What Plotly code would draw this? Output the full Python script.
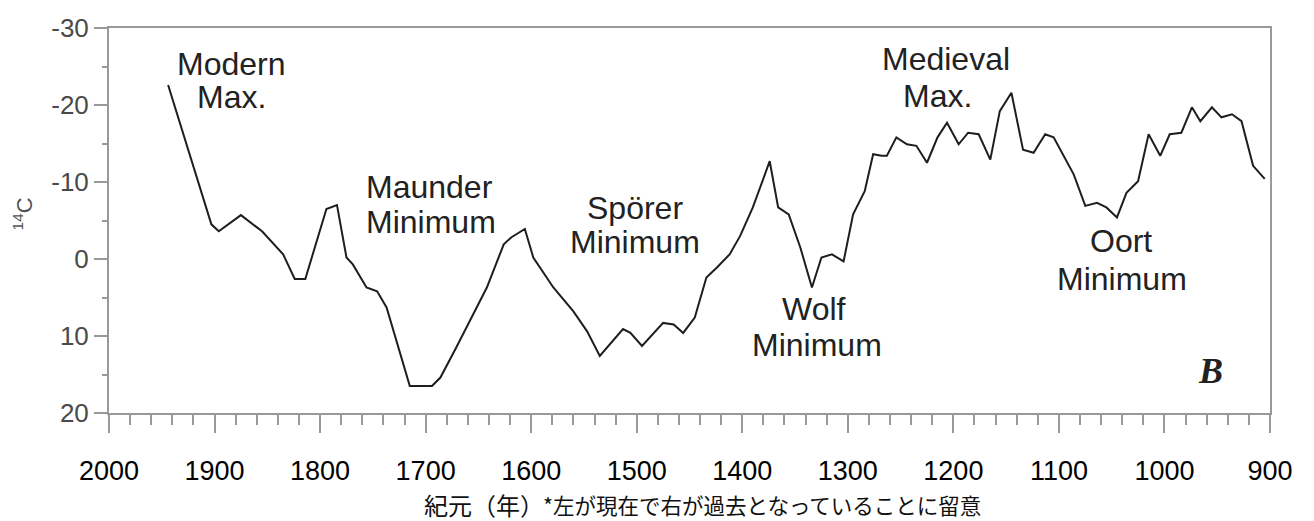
import plotly.graph_objects as go

# Radiocarbon (Delta 14C, per mil) record, year AD vs. value
years = [1944, 1903, 1896, 1875, 1855, 1835, 1824, 1814, 1794, 1784,
         1775, 1769, 1756, 1746, 1737, 1726, 1715, 1694, 1686, 1671,
         1655, 1642, 1626, 1619, 1606, 1598, 1579, 1560, 1547, 1535,
         1513, 1506, 1495, 1475, 1465, 1456, 1445, 1439, 1434, 1424,
         1412, 1402, 1390, 1374, 1366, 1356, 1345, 1334, 1325, 1315,
         1304, 1295, 1284, 1276, 1268, 1263, 1254, 1244, 1235, 1225,
         1215, 1206, 1195, 1186, 1176, 1165, 1156, 1145, 1134, 1124,
         1113, 1105, 1086, 1075, 1064, 1055, 1045, 1036, 1025, 1015,
         1004, 995, 984, 974, 966, 955, 946, 936, 927, 916, 905]
c14 = [-22.6, -4.5, -3.6, -5.7, -3.6, -0.6, 2.6, 2.6, -6.5, -7.0,
       -0.2, 0.7, 3.7, 4.2, 6.3, 11.5, 16.5, 16.5, 15.4, 11.5,
       7.2, 3.7, -1.9, -2.8, -3.9, -0.2, 3.7, 6.8, 9.4, 12.6,
       9.1, 9.6, 11.3, 8.3, 8.5, 9.6, 7.6, 4.6, 2.4, 1.1,
       -0.6, -3.0, -6.7, -12.7, -6.7, -5.8, -1.5, 3.7, -0.2, -0.6,
       0.3, -5.8, -8.8, -13.6, -13.4, -13.4, -15.8, -14.9, -14.7, -12.5,
       -15.8, -17.7, -14.9, -16.4, -16.2, -12.9, -19.2, -21.6, -14.2, -13.8,
       -16.2, -15.8, -11.0, -6.9, -7.3, -6.7, -5.4, -8.6, -10.1, -16.2,
       -13.4, -16.2, -16.4, -19.7, -17.9, -19.7, -18.4, -18.8, -17.9, -12.1, -10.4]

x_ticks = [2000, 1900, 1800, 1700, 1600, 1500, 1400, 1300, 1200, 1100, 1000, 900]
y_ticks = [-30, -20, -10, 0, 10, 20]

# Period labels: (text, year, value)
period_labels = [
    ("Modern", 1884, -25.3), ("Max.", 1884, -21.0),
    ("Maunder", 1696, -9.3), ("Minimum", 1695, -4.8),
    ("Spörer", 1502, -6.6), ("Minimum", 1502, -2.2),
    ("Wolf", 1332, 6.5), ("Minimum", 1329, 11.2),
    ("Medieval", 1207, -26.0), ("Max.", 1215, -21.2),
    ("Oort", 1041, -2.3), ("Minimum", 1040, 2.6),
]

AXIS = "#999999"
TEXT = "#222222"
CJK = "Noto Sans CJK JP, sans-serif"

fig = go.Figure()
fig.add_trace(go.Scatter(
    x=years, y=c14, mode="lines",
    line=dict(color="#1e1e1e", width=2),
    showlegend=False, hoverinfo="x+y",
))

for text, yr, val in period_labels:
    fig.add_annotation(
        x=yr, y=val, text=text, showarrow=False,
        xanchor="center", yanchor="middle",
        font=dict(family="Liberation Sans, Arial, sans-serif", size=32, color=TEXT),
    )

# panel letter
fig.add_annotation(
    x=956, y=14.5, text="<b><i>B</i></b>", showarrow=False,
    xanchor="center", yanchor="middle",
    font=dict(family="Liberation Serif, Times New Roman, serif", size=36, color=TEXT),
)

# y-axis title
fig.add_annotation(
    xref="paper", x=-0.074, y=-5.8, text="<sup>14</sup>C", showarrow=False,
    textangle=-90, xanchor="center", yanchor="middle",
    font=dict(family="Liberation Sans, Arial, sans-serif", size=22, color="#555555"),
)

# x-axis caption: title plus a note on the reversed time direction
fig.add_annotation(
    xref="paper", yref="paper", x=(422 - 109) / 1161, y=-0.238,
    text="紀元（年）", showarrow=False, xanchor="left", yanchor="middle",
    font=dict(family=CJK, size=24, color="#111111"),
)
fig.add_annotation(
    xref="paper", yref="paper", x=(541 - 109) / 1161, y=-0.238,
    text="*左が現在で右が過去となっていることに留意", showarrow=False,
    xanchor="left", yanchor="middle",
    font=dict(family=CJK, size=21.5, color="#111111"),
)

fig.update_layout(
    width=1314, height=521,
    margin=dict(l=109, r=44, t=28, b=108),
    paper_bgcolor="white", plot_bgcolor="white",
    xaxis=dict(
        range=[2000, 900], tickvals=x_ticks, ticktext=[str(v) for v in x_ticks],
        showgrid=False, zeroline=False,
        showline=True, linecolor=AXIS, linewidth=2, mirror=True,
        ticks="outside", ticklen=18, tickwidth=2, tickcolor=AXIS,
        minor=dict(dtick=20, ticks="outside", ticklen=10, tickwidth=2, tickcolor=AXIS),
        ticklabelstandoff=15,
        tickfont=dict(family="Liberation Sans, Arial, sans-serif", size=27, color="#000000"),
    ),
    yaxis=dict(
        range=[20, -30], tickvals=y_ticks, ticktext=[str(v) for v in y_ticks],
        showgrid=False, zeroline=False,
        showline=True, linecolor=AXIS, linewidth=2, mirror=True,
        ticks="outside", ticklen=13, tickwidth=2, tickcolor=AXIS,
        minor=dict(dtick=5, ticks="outside", ticklen=5, tickwidth=2, tickcolor=AXIS),
        tickfont=dict(family="Liberation Sans Narrow, Liberation Sans, Arial, sans-serif",
                      size=26, color="#4a4a4a"),
    ),
)

fig.write_html("out.html")
